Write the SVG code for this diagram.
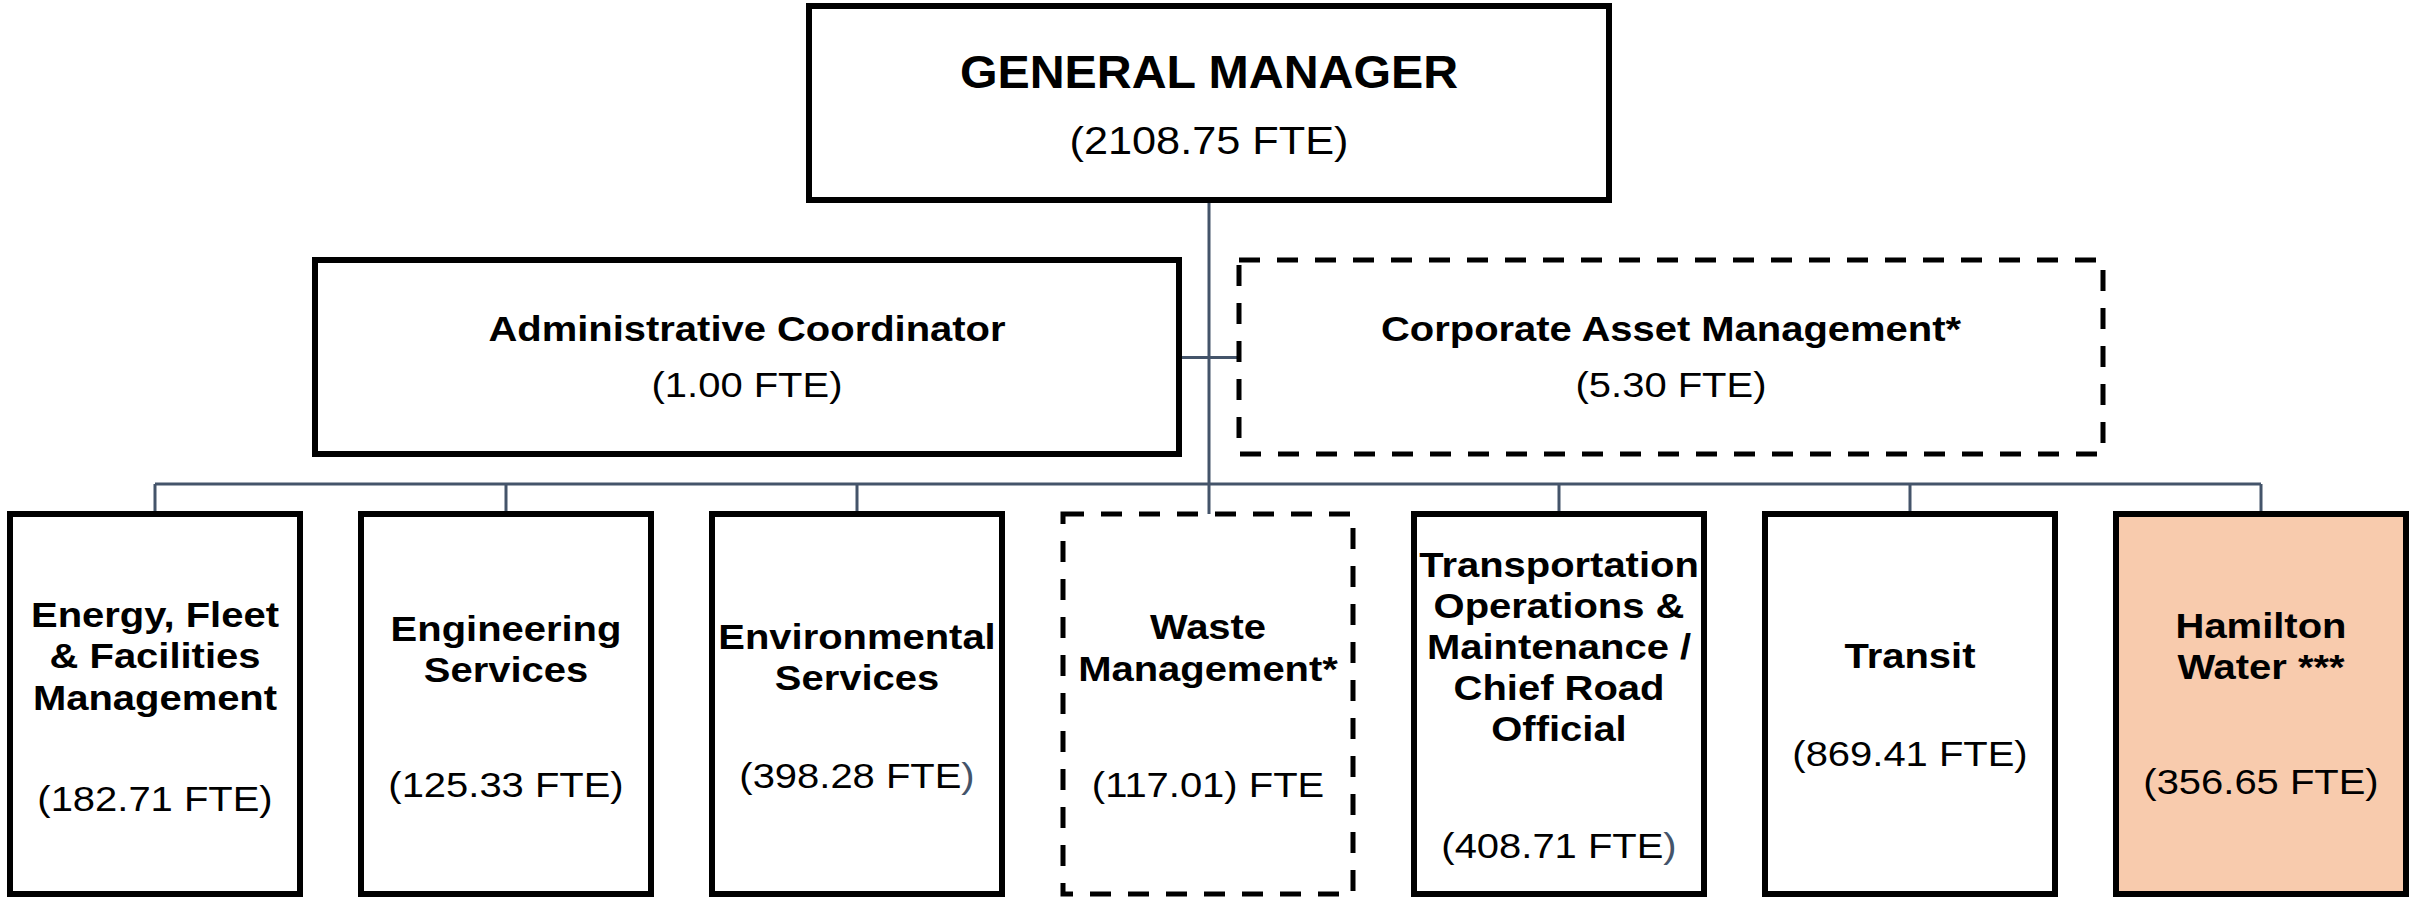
<svg xmlns="http://www.w3.org/2000/svg" width="2425" height="898" viewBox="0 0 2425 898">
<style>
.box{fill:#ffffff;stroke:#000000;stroke-width:6}
.dash{fill:#ffffff;stroke:#000000;stroke-width:5;stroke-dasharray:21 17}
.hw{fill:#F8CBAD}
.conn{fill:none;stroke:#44546A;stroke-width:3}
text{font-family:"Liberation Sans",Arial,sans-serif;text-anchor:middle;fill:#000000}
.b{font-weight:bold;font-size:36px}
.r{font-size:36px}
.sl{fill:#44546A}
</style>
<rect width="2425" height="898" fill="#ffffff"/>
<g id="connectors">
<path class="conn" d="M1209 203V514"/>
<path class="conn" d="M1179 357.5H1239"/>
<path class="conn" d="M155 484H2261"/>
<path class="conn" d="M155 484V511M506 484V511M857 484V511M1559 484V511M1910 484V511M2261 484V511"/>
</g>
<g id="general-manager">
<rect class="box" x="809" y="6" width="800" height="194"/>
<g transform="translate(1209 0) scale(1.05 1)">
<text x="0" y="88" class="b" style="font-size:46px">GENERAL MANAGER</text>
</g>
<g transform="translate(1209 0) scale(1.11 1)">
<text x="0" y="154" class="r" style="font-size:39px">(2108.75 FTE)</text>
</g>
</g>
<g id="administrative-coordinator">
<rect class="box" x="315" y="260" width="864" height="194"/>
<g transform="translate(747 0) scale(1.11 1)">
<text x="0" y="341" class="b">Administrative Coordinator</text>
<text x="0" y="397" class="r">(1.00 FTE)</text>
</g>
</g>
<g id="corporate-asset-management">
<rect class="dash" x="1239" y="260" width="864" height="194"/>
<g transform="translate(1671 0) scale(1.11 1)">
<text x="0" y="341" class="b">Corporate Asset Management*</text>
<text x="0" y="397" class="r">(5.30 FTE)</text>
</g>
</g>
<g id="energy-fleet-facilities">
<rect class="box" x="10" y="514" width="290" height="380"/>
<g transform="translate(155 0) scale(1.11 1)">
<text x="0" y="627" class="b">Energy, Fleet</text>
<text x="0" y="668" class="b">&amp; Facilities</text>
<text x="0" y="710" class="b">Management</text>
<text x="0" y="811" class="r">(182.71 FTE)</text>
</g>
</g>
<g id="engineering-services">
<rect class="box" x="361" y="514" width="290" height="380"/>
<g transform="translate(506 0) scale(1.11 1)">
<text x="0" y="641" class="b">Engineering</text>
<text x="0" y="682" class="b">Services</text>
<text x="0" y="797" class="r">(125.33 FTE)</text>
</g>
</g>
<g id="environmental-services">
<rect class="box" x="712" y="514" width="290" height="380"/>
<g transform="translate(857 0) scale(1.11 1)">
<text x="0" y="649" class="b">Environmental</text>
<text x="0" y="690" class="b">Services</text>
<text x="0" y="788" class="r">(398.28 FTE<tspan class="sl">)</tspan></text>
</g>
</g>
<g id="waste-management">
<rect class="dash" x="1063" y="514" width="290" height="380"/>
<g transform="translate(1208 0) scale(1.11 1)">
<text x="0" y="639" class="b">Waste</text>
<text x="0" y="681" class="b">Management*</text>
<text x="0" y="797" class="r">(117.01) FTE</text>
</g>
</g>
<g id="transportation-operations">
<rect class="box" x="1414" y="514" width="290" height="380"/>
<g transform="translate(1559 0) scale(1.11 1)">
<text x="0" y="577" class="b">Transportation</text>
<text x="0" y="618" class="b">Operations &amp;</text>
<text x="0" y="659" class="b">Maintenance /</text>
<text x="0" y="700" class="b">Chief Road</text>
<text x="0" y="741" class="b">Official</text>
<text x="0" y="858" class="r">(408.71 FTE<tspan class="sl">)</tspan></text>
</g>
</g>
<g id="transit">
<rect class="box" x="1765" y="514" width="290" height="380"/>
<g transform="translate(1910 0) scale(1.11 1)">
<text x="0" y="668" class="b">Transit</text>
<text x="0" y="766" class="r">(869.41 FTE)</text>
</g>
</g>
<g id="hamilton-water">
<rect class="box hw" x="2116" y="514" width="290" height="380"/>
<g transform="translate(2261 0) scale(1.11 1)">
<text x="0" y="638" class="b">Hamilton</text>
<text x="0" y="679" class="b">Water ***</text>
<text x="0" y="794" class="r">(356.65 FTE)</text>
</g>
</g>
</svg>
